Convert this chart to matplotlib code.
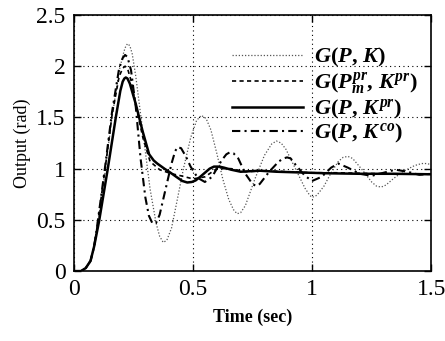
import matplotlib
matplotlib.use("Agg")
import matplotlib.pyplot as plt

# G(P, K) - dotted
t_pk = [0, 0.03, 0.05, 0.07, 0.085, 0.10, 0.13, 0.16, 0.19, 0.205, 0.215, 0.225, 0.235, 0.245,
        0.26, 0.29, 0.32, 0.345, 0.36, 0.375, 0.39, 0.41, 0.43, 0.46, 0.49, 0.515, 0.535,
        0.555, 0.575, 0.60, 0.625, 0.65, 0.67, 0.685, 0.70, 0.72, 0.76, 0.80, 0.83, 0.85,
        0.87, 0.89, 0.93, 0.97, 0.99, 1.0, 1.02, 1.05, 1.08, 1.11, 1.13, 1.15, 1.17, 1.21,
        1.25, 1.27, 1.29, 1.31, 1.34, 1.38, 1.43, 1.46, 1.48, 1.5]
v_pk = [0, 0.0, 0.03, 0.10, 0.24, 0.45, 0.95, 1.50, 1.95, 2.10, 2.18, 2.22, 2.20, 2.12,
        1.90, 1.35, 0.80, 0.47, 0.34, 0.28, 0.30, 0.42, 0.65, 1.00, 1.30, 1.47, 1.52,
        1.49, 1.38, 1.15, 0.90, 0.70, 0.60, 0.56, 0.57, 0.64, 0.90, 1.13, 1.24, 1.27,
        1.25, 1.19, 1.00, 0.81, 0.74, 0.72, 0.74, 0.83, 0.96, 1.07, 1.11, 1.12, 1.10, 0.99,
        0.87, 0.83, 0.82, 0.84, 0.90, 0.97, 1.03, 1.05, 1.05, 1.04]

# G(P_m^pr, K^pr) - dashed
t_pm = [0, 0.03, 0.05, 0.07, 0.085, 0.10, 0.13, 0.16, 0.19, 0.205, 0.215, 0.225, 0.24,
        0.26, 0.29, 0.32, 0.36, 0.41, 0.45, 0.50, 0.55, 0.60, 0.66, 0.72, 0.80, 0.90,
        1.0, 1.1, 1.2, 1.3, 1.4, 1.5]
v_pm = [0, 0.0, 0.03, 0.10, 0.24, 0.47, 0.98, 1.52, 1.90, 1.98, 2.00, 1.98, 1.86,
        1.62, 1.30, 1.07, 0.99, 0.95, 0.93, 0.90, 0.92, 1.00, 1.00, 0.97, 0.98, 0.97,
        0.96, 0.96, 0.955, 0.95, 0.95, 0.945]

# G(P, K^pr) - solid
t_pr = [0, 0.03, 0.05, 0.07, 0.085, 0.106, 0.141, 0.176, 0.195, 0.205, 0.212, 0.218, 0.225,
        0.235, 0.26, 0.288, 0.316, 0.335, 0.35, 0.38, 0.406, 0.43, 0.455, 0.476, 0.495,
        0.511, 0.53, 0.55, 0.57, 0.588, 0.61, 0.63, 0.66, 0.70, 0.74, 0.78, 0.85, 0.92,
        1.06, 1.2, 1.34, 1.5]
v_pr = [0, 0.0, 0.03, 0.10, 0.24, 0.49, 0.98, 1.50, 1.76, 1.85, 1.88, 1.89, 1.88,
        1.83, 1.63, 1.37, 1.14, 1.08, 1.05, 1.00, 0.96, 0.92, 0.88, 0.865, 0.87,
        0.885, 0.92, 0.96, 1.00, 1.02, 1.02, 1.01, 0.99, 0.97, 0.975, 0.98, 0.97, 0.965,
        0.955, 0.95, 0.95, 0.945]

# G(P, K^co) - dash-dot
t_co = [0, 0.03, 0.05, 0.07, 0.085, 0.10, 0.13, 0.16, 0.19, 0.205, 0.215, 0.225, 0.24,
        0.26, 0.28, 0.30, 0.315, 0.33, 0.345, 0.36, 0.38, 0.41, 0.425, 0.435, 0.45, 0.47,
        0.49, 0.52, 0.55, 0.58, 0.62, 0.64, 0.655, 0.67, 0.69, 0.72, 0.75, 0.765, 0.78,
        0.82, 0.86, 0.88, 0.895, 0.91, 0.93, 0.97, 1.0, 1.04, 1.08, 1.11, 1.15, 1.2, 1.25,
        1.3, 1.35, 1.4, 1.45, 1.5]
v_co = [0, 0.0, 0.03, 0.10, 0.24, 0.48, 1.00, 1.55, 1.98, 2.08, 2.11, 2.09, 1.96,
        1.60, 1.10, 0.72, 0.54, 0.465, 0.47, 0.55, 0.75, 1.05, 1.17, 1.21, 1.20, 1.12,
        1.02, 0.91, 0.87, 0.92, 1.08, 1.14, 1.16, 1.15, 1.10, 0.95, 0.85, 0.83, 0.85,
        0.97, 1.07, 1.10, 1.11, 1.10, 1.04, 0.93, 0.88, 0.92, 1.01, 1.05, 1.01, 0.95, 0.93,
        0.96, 0.99, 0.97, 0.94, 0.95]

LABELS = [r"$G(P,\,K)$", r"$G(P_m^{pr},\,K^{pr})$", r"$G(P,\,K^{pr})$", r"$G(P,\,K^{co})$"]
XTICKS = [0, 0.5, 1, 1.5]
YTICKS = [0, 0.5, 1, 1.5, 2, 2.5]

plt.rcParams["font.family"] = ["Liberation Serif", "DejaVu Serif"]
plt.rcParams["mathtext.fontset"] = "custom"
plt.rcParams["mathtext.it"] = "Liberation Serif:italic:bold"
plt.rcParams["mathtext.rm"] = "Liberation Serif:bold"

fig = plt.figure(figsize=(4.45, 3.41), dpi=100)
ax = fig.add_axes([0.166, 0.205, 0.803, 0.751])

ax.plot(t_pk, v_pk, color="#555555", linestyle=(0, (1, 1.5)), linewidth=0.9, label=LABELS[0])
ax.plot(t_pm, v_pm, color="black", linestyle=(0, (2.5, 2)), linewidth=1.2, label=LABELS[1])
ax.plot(t_pr, v_pr, color="black", linestyle="-", linewidth=1.8, label=LABELS[2])
ax.plot(t_co, v_co, color="black", linestyle=(0, (4, 2, 1, 2)), linewidth=1.5, label=LABELS[3])

ax.set_xlim(0, 1.5)
ax.set_ylim(0, 2.5)
ax.set_xticks(XTICKS)
ax.set_xticklabels(["0", "0.5", "1", "1.5"])
ax.set_yticks(YTICKS)
ax.set_yticklabels(["0", "0.5", "1", "1.5", "2", "2.5"])
ax.tick_params(direction="in", length=5, width=1, labelsize=17, top=True, right=True, pad=6)
ax.grid(True, color="black", linestyle=(0, (1, 3)), linewidth=0.8)
for s in ax.spines.values():
    s.set_linewidth(1.2)

ax.set_xlabel("Time (sec)", fontsize=13, fontweight="bold", labelpad=6)
ax.set_ylabel("Output (rad)", fontsize=13, labelpad=4)

ax.legend(loc="upper right", bbox_to_anchor=(1.0, 0.93), frameon=False, fontsize=16,
          handlelength=3.2, handletextpad=0.5, labelspacing=0.05, borderaxespad=0.2)

fig.savefig("out.png", dpi=100)
